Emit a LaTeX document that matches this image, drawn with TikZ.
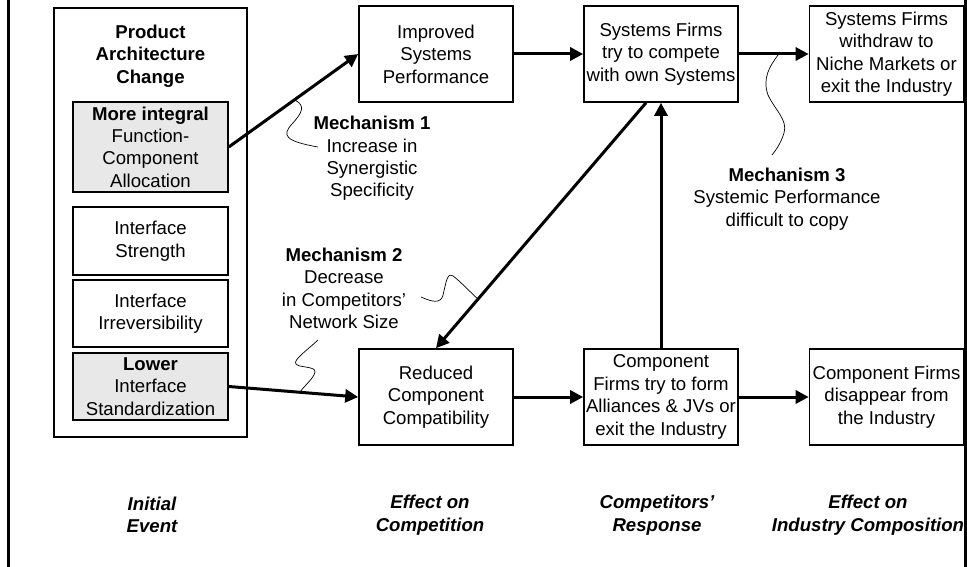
\documentclass[tikz,border=0pt]{standalone}
\usepackage{fontspec}
\setmainfont{Liberation Sans}
\usetikzlibrary{arrows.meta,calc}
\begin{document}
\begin{tikzpicture}[x=1pt,y=-1pt,
  txt/.style={font=\fontsize{18.6}{22.4}\selectfont, align=center, inner sep=0pt},
  box/.style={txt, draw, line width=1.6pt, minimum width=154pt, minimum height=96pt},
  sub/.style={txt, draw, line width=1.6pt, minimum width=155pt},
  grey/.style={fill=black!9},
  flow/.style={line width=3pt, -{Triangle[length=13pt,width=13pt]}},
  callout/.style={line width=0.7pt},
  phase/.style={txt, font=\fontsize{18.6}{22.4}\selectfont\bfseries\itshape}]
\useasboundingbox (0,0) rectangle (967,567);
\fill[white] (0,0) rectangle (967,567);
% side rules
\draw[line width=3pt] (8,0) -- (8,567);
\draw[line width=3pt] (965,0) -- (965,567);

% initial event column
\node[draw, line width=1.6pt, minimum width=193pt, minimum height=429pt, inner sep=0pt] (frame) at (150.5,222.5) {};
\node[txt, font=\fontsize{18.6}{22.4}\selectfont\bfseries] (title) at (150.5,56) {Product\\Architecture\\Change};
\node[sub, grey, minimum height=90pt] (mi) at (150.5,147) {\textbf{More integral}\\Function-\\Component\\Allocation};
\node[sub, minimum height=68pt] (ist) at (150.5,241) {Interface\\Strength};
\node[sub, minimum height=67pt] (iir) at (150.5,313.5) {Interface\\Irreversibility};
\node[sub, grey, minimum height=67pt] (low) at (150.5,386.5) {\textbf{Lower}\\Interface\\Standardization};

% effect boxes
\node[box] (imp) at (436,54) {Improved\\Systems\\Performance};
\node[box] (sc) at (661,54) {Systems Firms\\try to compete\\with own Systems};
\node[box] (sw) at (886.5,54) {Systems Firms\\withdraw to\\Niche Markets or\\exit the Industry};
\node[box] (red) at (436,397) {Reduced\\Component\\Compatibility};
\node[box] (ct) at (661,397) {Component\\Firms try to form\\Alliances \& JVs or\\exit the Industry};
\node[box] (cd) at (886.5,397) {Component Firms\\disappear from\\the Industry};

% causal links
\draw[flow] (mi.east) -- (imp.west);
\draw[flow] (imp.east) -- (sc.west);
\draw[flow] (sc.east) -- (sw.west);
\draw[flow] (low.east) -- (red.west);
\draw[flow] (red.east) -- (ct.west);
\draw[flow] (ct.east) -- (cd.west);
\draw[flow] ($(sc.south)+(-15,0)$) -- (red.north);
\draw[flow] (ct.north) -- (sc.south);

% mechanism labels
\node[txt] (m1) at (372,158.5) {\textbf{Mechanism 1}\\Increase in\\Synergistic\\Specificity};
\node[txt] (m2) at (344,288.5) {\textbf{Mechanism 2}\\Decrease\\in Competitors'\\Network Size};
\node[txt] (m3) at (787,199) {\textbf{Mechanism 3}\\Systemic Performance\\difficult to copy};

% callout squiggles
\draw[callout] (295,100) .. controls (306,106) and (302,113) .. (292,124)
  .. controls (282,135) and (284,141) .. (318,147);
\draw[callout] (421,297) .. controls (432,302) and (441,304) .. (443,295)
  .. controls (446,283) and (447,272) .. (453,276) .. controls (460,281) and (470,292) .. (479,300);
\draw[callout] (318,340) .. controls (305,352) and (293,360) .. (296,364)
  .. controls (299,368) and (316,366) .. (315,372) .. controls (314,378) and (305,385) .. (300,392);
\draw[callout] (778,55) .. controls (770,66) and (762,78) .. (768,95)
  .. controls (775,110) and (788,120) .. (784,133) .. controls (781,143) and (776,150) .. (772,155);

% phase captions
\node[phase] (p1) at (152,515) {Initial\\Event};
\node[phase] (p2) at (430,515) {Effect on\\Competition};
\node[phase] (p3) at (657,515) {Competitors'\\Response};
\node[phase] (p4) at (868,515) {Effect on\\Industry Composition};
\end{tikzpicture}
\end{document}
